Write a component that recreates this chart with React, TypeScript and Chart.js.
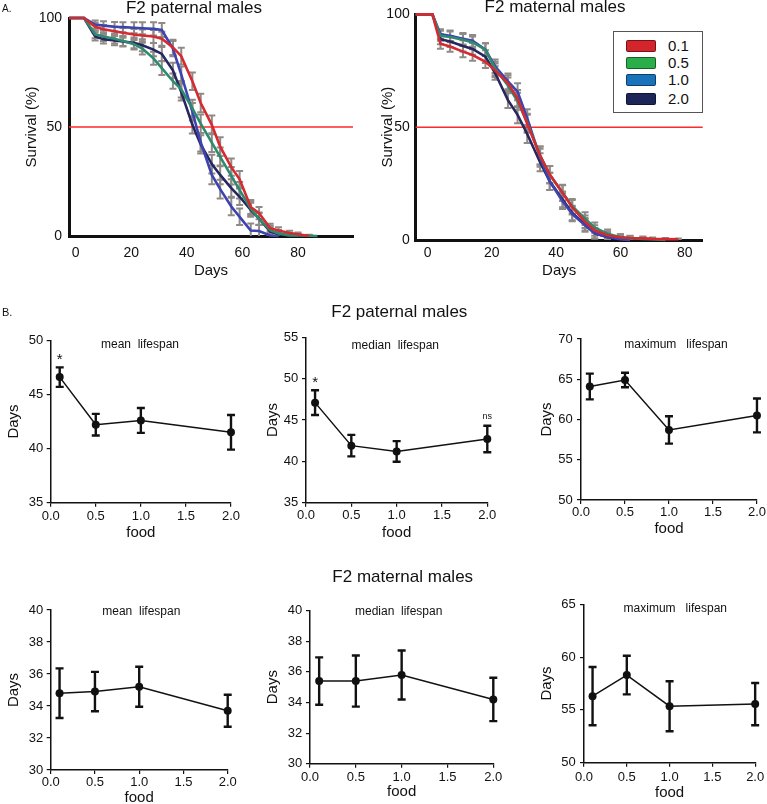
import React, { useEffect, useRef } from 'react';
import { Chart, registerables } from 'chart.js';

Chart.register(...registerables);

const FONT = "'Liberation Sans', Arial, Helvetica, sans-serif";
const INK = '#111111';
const ERR_GREY = '#8f8a86';
const HALF_COLOR = '#ff2a2a';

// ---------------- A: survival (%) vs days ----------------
const FOOD_LEVELS = ['0.1', '0.5', '1.0', '2.0'];
const LINE_COLORS = ['#d42a30', '#2d8a6e', '#3d43b0', '#27265f'];
const LEGEND_COLORS = ['#d3252b', '#2aae4a', '#1a73ba', '#1e2559'];
const HALF_SURVIVAL = 50;

const PAT_DAYS = [-2.4, 3, 7, 10, 14, 17, 21, 24, 28, 31, 35, 38, 42, 45, 49, 52, 56, 59, 63, 66, 70, 73, 77, 80, 84, 87];
const PAT_SURV_01 = [100, 100, 96, 94.8, 93.9, 93.2, 92.4, 92, 91.5, 90.5, 86.5, 82.5, 71, 61, 51, 41, 31.6, 26, 13.3, 10.5, 3.6, 2.5, 1.4, 0.8, 0, null];
const PAT_SURV_05 = [100, 100, 92.5, 91.5, 90.5, 89.5, 88, 86, 81.5, 77, 71, 67.3, 58.5, 51.5, 42.8, 36.3, 27.6, 21, 12.6, 7.8, 2.7, 1.2, 0.3, 0.2, 0.1, 0];
const PAT_SURV_10 = [100, 100, 97, 96.5, 96, 95.8, 95.5, 95.3, 95, 94.5, 86, 74, 57, 43, 28, 21.5, 13.5, 8.8, 2.5, 2.3, 0.2, 0, null, null, null, null];
const PAT_SURV_20 = [100, 100, 91.5, 90.3, 89.7, 89.2, 88.6, 87.5, 85.5, 83.5, 76, 66, 51, 42, 33, 28, 22, 18, 12, 8, 2, 0.8, 0.3, 0, null, null];
const PAT_SEM = [0, 0, 1.8, 2, 2.2, 2.3, 2.5, 2.7, 3, 3.2, 3.5, 3.8, 4, 4.2, 4.3, 4.3, 4, 3.8, 3.2, 2.8, 2, 1.5, 1, 0.8, 0.5, 0];

const MAT_DAYS = [-3.7, 1.5, 4, 7, 11, 14, 18, 21, 25, 28, 31, 35, 38, 42, 45, 49, 52, 56, 60, 63, 67, 70, 74, 78];
const MAT_SURV_01 = [100, 100, 87, 85.8, 83.5, 82, 79, 75.2, 69.5, 62.7, 51.5, 37.4, 29, 20.8, 14.5, 8.1, 4.2, 2.1, 1.2, 0.9, 0.7, 0.5, 0.4, 0.3];
const MAT_SURV_05 = [100, 100, 90.5, 90, 88.8, 87.6, 84.4, 76, 68.5, 61.5, 52, 37.5, 29, 21, 15, 9.5, 5.5, 2.8, 1.2, 0.8, 0.5, 0.3, 0, null];
const MAT_SURV_10 = [100, 100, 91.2, 90.5, 89.2, 88.3, 84.4, 77, 70.3, 65.7, 54, 36.5, 26, 17.2, 11.5, 6.5, 3, 1.3, 0.3, 0, null, null, null, null];
const MAT_SURV_20 = [100, 100, 89, 88, 86, 84.7, 81.3, 74, 62, 55.5, 47, 34.5, 26, 18, 12, 7, 3, 1.2, 0.5, 0, null, null, null, null];
const MAT_SEM = [0, 0, 2.2, 2.4, 2.5, 2.6, 2.8, 3, 3.5, 3.8, 4, 4, 3.8, 3.5, 3.2, 2.8, 2.3, 1.8, 1.3, 1, 0.8, 0.6, 0.5, 0.4];

// ---------------- B: lifespan (days) vs food ----------------
const FOOD = [0.1, 0.5, 1.0, 2.0];
const PAT_MEAN = [46.6, 42.2, 42.6, 41.5];
const PAT_MEAN_ERR = [0.9, 1.0, 1.15, 1.6];
const PAT_MEAN_SIG = ['*', '', '', ''];
const PAT_MEDIAN = [47.1, 41.9, 41.2, 42.7];
const PAT_MEDIAN_ERR = [1.5, 1.3, 1.25, 1.6];
const PAT_MEDIAN_SIG = ['*', '', '', 'ns'];
const PAT_MAX = [64.1, 64.9, 58.7, 60.5];
const PAT_MAX_ERR = [1.6, 0.9, 1.7, 2.1];
const MAT_MEAN = [34.8, 34.9, 35.2, 33.7];
const MAT_MEAN_ERR = [1.55, 1.23, 1.25, 1.0];
const MAT_MEDIAN = [35.4, 35.4, 35.8, 34.2];
const MAT_MEDIAN_ERR = [1.55, 1.67, 1.6, 1.42];
const MAT_MAX = [56.3, 58.3, 55.35, 55.55];
const MAT_MAX_ERR = [2.76, 1.83, 2.37, 2.0];

// ---------------- plugins ----------------
const errorBarPlugin = {
  id: 'errorBars',
  beforeDatasetsDraw(chart: any, _a: any, opts: any) {
    if (opts && opts.layer === 'below') drawErrors(chart, opts);
  },
  afterDatasetsDraw(chart: any, _a: any, opts: any) {
    if (opts && opts.layer === 'above') drawErrors(chart, opts);
  },
};

function drawErrors(chart: any, opts: any) {
  const ctx = chart.ctx;
  const xs = chart.scales.x;
  const ys = chart.scales.y;
  const area = chart.chartArea;
  ctx.save();
  if (opts.clip) {
    ctx.beginPath();
    ctx.rect(area.left, area.top - 4, area.right - area.left, area.bottom - area.top + 4);
    ctx.clip();
  }
  ctx.strokeStyle = opts.color;
  ctx.lineWidth = opts.width;
  const c = opts.cap;
  chart.data.datasets.forEach((ds: any) => {
    if (!ds.errors) return;
    ds.data.forEach((p: any, i: number) => {
      const e = ds.errors[i];
      if (p.y == null || !e) return;
      const x = xs.getPixelForValue(p.x);
      const y1 = ys.getPixelForValue(p.y + e);
      const y2 = ys.getPixelForValue(p.y - e);
      ctx.beginPath();
      ctx.moveTo(x, y1);
      ctx.lineTo(x, y2);
      ctx.moveTo(x - c, y1);
      ctx.lineTo(x + c, y1);
      ctx.moveTo(x - c, y2);
      ctx.lineTo(x + c, y2);
      ctx.stroke();
    });
  });
  ctx.restore();
}

const freeTextPlugin = {
  id: 'freeText',
  afterDraw(chart: any, _a: any, opts: any) {
    if (!opts || !opts.items) return;
    const ctx = chart.ctx;
    ctx.save();
    opts.items.forEach((it: any) => {
      ctx.font = `${it.size}px ${FONT}`;
      ctx.fillStyle = INK;
      ctx.textAlign = 'center';
      ctx.textBaseline = 'alphabetic';
      ctx.fillText(it.text, it.x, it.y);
    });
    ctx.restore();
  },
};

const sigPlugin = {
  id: 'sigMarks',
  afterDatasetsDraw(chart: any, _a: any, opts: any) {
    if (!opts || !opts.marks) return;
    const ds: any = chart.data.datasets[0];
    const xs = chart.scales.x;
    const ys = chart.scales.y;
    const ctx = chart.ctx;
    ctx.save();
    ctx.fillStyle = INK;
    ctx.textAlign = 'center';
    ctx.textBaseline = 'alphabetic';
    opts.marks.forEach((m: string, i: number) => {
      if (!m) return;
      const p = ds.data[i];
      const e = ds.errors[i] || 0;
      const star = m === '*';
      ctx.font = `${star ? 15 : 9}px ${FONT}`;
      const x = xs.getPixelForValue(p.x);
      const y = ys.getPixelForValue(p.y + e) - (star ? 3 : 7);
      ctx.fillText(m, x, y);
    });
    ctx.restore();
  },
};

Chart.register(errorBarPlugin as any, freeTextPlugin as any, sigPlugin as any);

// ---------------- layout helpers ----------------
function makePadding(box: any, area: any, yW: number, xH: number) {
  return {
    left: area.l - box.x - yW,
    top: area.t - box.y,
    right: box.x + box.w - area.r,
    bottom: box.y + box.h - area.b - xH,
  };
}

function shiftTexts(items: any[], box: any) {
  return items.map((it) => ({ ...it, x: it.x - box.x, y: it.y - box.y }));
}

function survivalConfig(p: any) {
  const datasets: any[] = p.series.map((vals: any[], k: number) => ({
    label: FOOD_LEVELS[k],
    data: p.days.map((d: number, i: number) => ({ x: d, y: vals[i] })),
    errors: p.sem,
    borderColor: LINE_COLORS[k],
    backgroundColor: LINE_COLORS[k],
    borderWidth: 2.6,
    pointRadius: 0,
    tension: 0,
    spanGaps: false,
    clip: 6,
  }));
  datasets.push({
    label: 'half',
    data: [{ x: p.xMin, y: HALF_SURVIVAL }, { x: p.xMax, y: HALF_SURVIVAL }],
    borderColor: HALF_COLOR,
    borderWidth: 1.4,
    pointRadius: 0,
    clip: 6,
  });
  return {
    type: 'line',
    data: { datasets },
    options: {
      responsive: false,
      animation: false,
      devicePixelRatio: 1,
      layout: { padding: makePadding(p.box, p.area, p.yW, p.xH) },
      plugins: {
        legend: { display: false },
        tooltip: { enabled: false },
        errorBars: { layer: 'below', color: ERR_GREY, width: 2, cap: 3.5, clip: true },
        freeText: { items: shiftTexts(p.texts, p.box) },
      },
      scales: {
        x: {
          type: 'linear',
          min: p.xMin,
          max: p.xMax,
          afterFit: (s: any) => { s.height = p.xH; },
          grid: { display: false, drawTicks: false, tickLength: 0 },
          border: { display: true, color: INK, width: 3 },
          ticks: { stepSize: 20, includeBounds: false, autoSkip: false, maxRotation: 0, padding: p.xTickPad, color: INK, font: { family: FONT, size: 14 } },
          title: { display: true, text: 'Days', color: INK, font: { family: FONT, size: 15 }, padding: 0 },
        },
        y: {
          type: 'linear',
          min: 0,
          max: 100,
          afterFit: (s: any) => { s.width = p.yW; },
          grid: { display: false, drawTicks: false, tickLength: 0 },
          border: { display: true, color: INK, width: 3 },
          ticks: { stepSize: 50, autoSkip: false, padding: p.yTickPad, color: INK, font: { family: FONT, size: 14 } },
          title: { display: true, text: 'Survival (%)', color: INK, font: { family: FONT, size: 15 }, padding: 0 },
        },
      },
    },
  };
}

function lifespanConfig(p: any) {
  const datasets: any[] = [{
    label: 'lifespan',
    data: FOOD.map((f, i) => ({ x: f, y: p.values[i] })),
    errors: p.errors,
    borderColor: INK,
    borderWidth: 1.5,
    pointRadius: 4,
    pointBackgroundColor: INK,
    pointBorderWidth: 0,
    tension: 0,
    clip: false,
  }];
  return {
    type: 'line',
    data: { datasets },
    options: {
      responsive: false,
      animation: false,
      devicePixelRatio: 1,
      layout: { padding: makePadding(p.box, p.area, p.yW, p.xH) },
      plugins: {
        legend: { display: false },
        tooltip: { enabled: false },
        errorBars: { layer: 'above', color: INK, width: 2.4, cap: 4, clip: false },
        sigMarks: { marks: p.sig || null },
        freeText: { items: shiftTexts(p.texts, p.box) },
      },
      scales: {
        x: {
          type: 'linear',
          min: 0,
          max: 2,
          afterFit: (s: any) => { s.height = p.xH; },
          grid: { display: true, drawOnChartArea: false, drawTicks: true, tickLength: 4, color: INK, lineWidth: 1.2 },
          border: { display: true, color: INK, width: 1.5 },
          ticks: { stepSize: 0.5, autoSkip: false, maxRotation: 0, padding: p.xTickPad, color: INK, font: { family: FONT, size: 13 }, callback: (v: any) => Number(v).toFixed(1) },
          title: { display: true, text: 'food', color: INK, font: { family: FONT, size: 15 }, padding: 0 },
        },
        y: {
          type: 'linear',
          min: p.yMin,
          max: p.yMax,
          afterFit: (s: any) => { s.width = p.yW; },
          grid: { display: true, drawOnChartArea: false, drawTicks: true, tickLength: 4, color: INK, lineWidth: 1.2 },
          border: { display: true, color: INK, width: 1.5 },
          ticks: { stepSize: p.yStep, autoSkip: false, padding: p.yTickPad, color: INK, font: { family: FONT, size: 13 } },
          title: { display: true, text: 'Days', color: INK, font: { family: FONT, size: 15 }, padding: 0 },
        },
      },
    },
  };
}

// ---------------- chart specs ----------------
const SPECS: any[] = [
  {
    kind: 'surv',
    box: { x: 0, y: 0, w: 380, h: 280 }, area: { l: 69, t: 18, r: 353, b: 236 }, yW: 45.7, xH: 44,
    days: PAT_DAYS, series: [PAT_SURV_01, PAT_SURV_05, PAT_SURV_10, PAT_SURV_20], sem: PAT_SEM,
    xMin: -2.4, xMax: 99.8, xTickPad: 8.6, yTickPad: 7,
    texts: [{ text: 'F2 paternal males', x: 194, y: 12.7, size: 17 }],
  },
  {
    kind: 'surv',
    box: { x: 379, y: 0, w: 352, h: 280 }, area: { l: 415.7, t: 11.7, r: 702.7, b: 240 }, yW: 36.7, xH: 39.7,
    days: MAT_DAYS, series: [MAT_SURV_01, MAT_SURV_05, MAT_SURV_10, MAT_SURV_20], sem: MAT_SEM,
    xMin: -3.7, xMax: 85.6, xTickPad: 4.6, yTickPad: 6,
    texts: [{ text: 'F2 maternal males', x: 555, y: 12.3, size: 17 }],
  },
  {
    kind: 'life',
    box: { x: 0, y: 320, w: 250, h: 223 }, area: { l: 50.7, t: 340.3, r: 231, b: 502.7 }, yW: 45.7, xH: 39.6,
    values: PAT_MEAN, errors: PAT_MEAN_ERR, sig: PAT_MEAN_SIG, yMin: 35, yMax: 50, yStep: 5, xTickPad: 2, yTickPad: 3.4,
    texts: [{ text: 'mean  lifespan', x: 140, y: 348, size: 12 }],
  },
  {
    kind: 'life',
    box: { x: 250, y: 296, w: 280, h: 247 }, area: { l: 306, t: 337.3, r: 487.3, b: 502.7 }, yW: 42.3, xH: 39.6,
    values: PAT_MEDIAN, errors: PAT_MEDIAN_ERR, sig: PAT_MEDIAN_SIG, yMin: 35, yMax: 55, yStep: 5, xTickPad: 1, yTickPad: 3.7,
    texts: [{ text: 'F2 paternal males', x: 399.3, y: 317, size: 17 }, { text: 'median  lifespan', x: 395.3, y: 348.5, size: 12 }],
  },
  {
    kind: 'life',
    box: { x: 530, y: 320, w: 237, h: 219 }, area: { l: 581, t: 339, r: 757.3, b: 500 }, yW: 43.3, xH: 38.3,
    values: PAT_MAX, errors: PAT_MAX_ERR, yMin: 50, yMax: 70, yStep: 5, xTickPad: 1, yTickPad: 4.3,
    texts: [{ text: 'maximum   lifespan', x: 676, y: 348, size: 12 }],
  },
  {
    kind: 'life',
    box: { x: 0, y: 590, w: 250, h: 218 }, area: { l: 50.7, t: 610, r: 227.7, b: 770 }, yW: 45.7, xH: 37.3,
    values: MAT_MEAN, errors: MAT_MEAN_ERR, yMin: 30, yMax: 40, yStep: 2, xTickPad: 0.5, yTickPad: 3.4,
    texts: [{ text: 'mean  lifespan', x: 141.3, y: 615, size: 12 }],
  },
  {
    kind: 'life',
    box: { x: 260, y: 560, w: 280, h: 242 }, area: { l: 310, t: 610.7, r: 493.3, b: 763.7 }, yW: 45.7, xH: 37.6,
    values: MAT_MEDIAN, errors: MAT_MEDIAN_ERR, yMin: 30, yMax: 40, yStep: 2, xTickPad: 1.5, yTickPad: 3.7,
    texts: [{ text: 'F2 maternal males', x: 402.7, y: 582, size: 17 }, { text: 'median  lifespan', x: 398.7, y: 615, size: 12 }],
  },
  {
    kind: 'life',
    box: { x: 530, y: 585, w: 237, h: 218 }, area: { l: 584, t: 604.3, r: 756.7, b: 762.7 }, yW: 46.3, xH: 39.6,
    values: MAT_MAX, errors: MAT_MAX_ERR, yMin: 50, yMax: 65, yStep: 5, xTickPad: 2.8, yTickPad: 4.3,
    texts: [{ text: 'maximum   lifespan', x: 675.3, y: 612, size: 12 }],
  },
];

function ChartCanvas({ spec }: any) {
  const ref = useRef<HTMLCanvasElement | null>(null);
  useEffect(() => {
    if (!ref.current) return;
    const cfg: any = spec.kind === 'surv' ? survivalConfig(spec) : lifespanConfig(spec);
    const chart = new Chart(ref.current, cfg);
    return () => chart.destroy();
  }, []);
  const b = spec.box;
  return (
    <canvas
      ref={ref}
      width={b.w}
      height={b.h}
      style={{ position: 'absolute', left: b.x, top: b.y, width: b.w, height: b.h }}
    />
  );
}

function Legend() {
  return (
    <div style={{ position: 'absolute', left: 613, top: 31, width: 90, height: 82, border: '1px solid #555', boxSizing: 'border-box', background: '#fff' }}>
      {FOOD_LEVELS.map((lab, i) => (
        <div key={lab} style={{ position: 'absolute', left: 0, top: [15.3, 32, 49.3, 67.7][i] - 1 - 9, height: 18, width: 88 }}>
          <div style={{ position: 'absolute', left: 12, top: 3, width: 30, height: 12, boxSizing: 'border-box', background: LEGEND_COLORS[i], border: '1px solid rgba(0,0,0,0.45)', borderRadius: 2 }} />
          <div style={{ position: 'absolute', left: 54, top: 0, lineHeight: '18px', fontSize: 15, color: INK, fontFamily: FONT }}>{lab}</div>
        </div>
      ))}
    </div>
  );
}

export default function App() {
  return (
    <div style={{ position: 'absolute', left: 0, top: 0, width: 767, height: 804, overflow: 'hidden', background: '#fff', fontFamily: FONT }}>
      {SPECS.map((s, i) => <ChartCanvas key={i} spec={s} />)}
      <Legend />
      <div style={{ position: 'absolute', left: 2, top: 4, fontSize: 10, lineHeight: '10px', color: INK }}>A.</div>
      <div style={{ position: 'absolute', left: 2, top: 307, fontSize: 11, lineHeight: '11px', color: INK }}>B.</div>
    </div>
  );
}
